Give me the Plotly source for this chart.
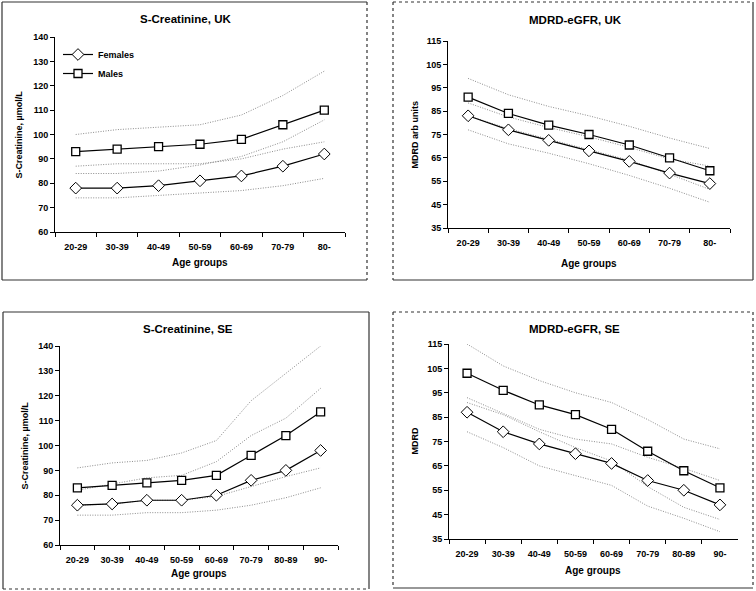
import plotly.graph_objects as go

W, H = 756, 591

# ---------------- data ----------------
age_uk = ["20-29", "30-39", "40-49", "50-59", "60-69", "70-79", "80-"]
age_se = ["20-29", "30-39", "40-49", "50-59", "60-69", "70-79", "80-89", "90-"]

# S-Creatinine, UK
cr_uk_f = [78, 78, 79, 81, 83, 87, 92]
cr_uk_m = [93, 94, 95, 96, 98, 104, 110]
cr_uk_m_hi = [100, 102, 103, 104, 108, 116, 126]
cr_uk_m_lo = [87, 88, 88, 88, 90, 94, 97]
cr_uk_f_hi = [84, 84, 85, 87.5, 91, 97, 106]
cr_uk_f_lo = [74, 74, 75, 76, 77, 79, 82]

# MDRD-eGFR, UK
eg_uk_f = [83, 77, 72.5, 68, 63.5, 58.5, 54]
eg_uk_m = [91, 84, 79, 75, 70.5, 65, 59.5]
eg_uk_m_hi = [99, 92, 87, 83, 78.5, 73.5, 69]
eg_uk_f_hi = [88.5, 82.5, 78, 74, 69.5, 64.5, 61.5]
eg_uk_m_lo = [83, 77.5, 73, 68.5, 64, 58, 51.5]
eg_uk_f_lo = [77, 71, 67, 62.5, 57.5, 52, 46]

# S-Creatinine, SE
cr_se_f = [76, 76.5, 78, 78, 80, 86, 90, 98]
cr_se_m = [83, 84, 85, 86, 88, 96, 104, 113.5]
cr_se_m_hi = [91, 93, 94, 97, 102, 118, 129, 140]
cr_se_f_hi = [82, 84.5, 87, 88, 93.5, 104, 111, 123]
cr_se_m_lo = [76, 76.5, 78, 78, 79.5, 83.5, 87.5, 91]
cr_se_f_lo = [72, 72, 73, 73, 74, 76, 79, 83]

# MDRD-eGFR, SE
eg_se_f = [87, 79, 74, 70, 66, 59, 55, 49]
eg_se_m = [103, 96, 90, 86, 80, 71, 63, 56]
eg_se_m_hi = [115, 106, 100, 95, 91, 84, 76, 72]
eg_se_m_lo = [93, 86.5, 80, 76, 74, 68.5, 64, 59]
eg_se_f_hi = [91, 86, 79, 72.5, 67, 56.5, 48, 43]
eg_se_f_lo = [79, 72.5, 65, 61, 57, 48.5, 43.5, 38]

panels = [
    dict(cats=age_uk, f=cr_uk_f, m=cr_uk_m, bands=[cr_uk_m_hi, cr_uk_m_lo, cr_uk_f_hi, cr_uk_f_lo],
         title="S-Creatinine, UK", ytitle="S-Creatinine, µmol/L", yr=[60, 140], tick0=60,
         px=(55, 345), py=(37, 232), tx=185, ty=19, ytx=18, xtx=200, xty=262),
    dict(cats=age_uk, f=eg_uk_f, m=eg_uk_m, bands=[eg_uk_m_hi, eg_uk_f_hi, eg_uk_m_lo, eg_uk_f_lo],
         title="MDRD-eGFR, UK", ytitle="MDRD arb units", yr=[35, 115], tick0=35,
         px=(448, 730), py=(41, 228), tx=575, ty=20, ytx=414, xtx=589, xty=263),
    dict(cats=age_se, f=cr_se_f, m=cr_se_m, bands=[cr_se_m_hi, cr_se_f_hi, cr_se_m_lo, cr_se_f_lo],
         title="S-Creatinine, SE", ytitle="S-Creatinine, µmol/L", yr=[60, 140], tick0=60,
         px=(60, 338), py=(346, 545), tx=188, ty=329, ytx=24, xtx=199, xty=573),
    dict(cats=age_se, f=eg_se_f, m=eg_se_m, bands=[eg_se_m_hi, eg_se_m_lo, eg_se_f_hi, eg_se_f_lo],
         title="MDRD-eGFR, SE", ytitle="MDRD", yr=[35, 115], tick0=35,
         px=(449, 738), py=(344, 539), tx=574, ty=329, ytx=414, xtx=593, xty=570),
]

FONT = "Liberation Sans, Arial, sans-serif"
fig = go.Figure()
annotations = []
shapes = []

for i, p in enumerate(panels):
    n = i + 1
    xa = "x" if n == 1 else f"x{n}"
    ya = "y" if n == 1 else f"y{n}"
    for b in p["bands"]:
        fig.add_trace(go.Scatter(x=p["cats"], y=b, mode="lines", xaxis=xa, yaxis=ya,
                                 line=dict(color="#8c8c8c", width=1, dash="1px,1.5px"),
                                 showlegend=False, hoverinfo="skip"))
    fig.add_trace(go.Scatter(x=p["cats"], y=p["f"], mode="lines+markers", name="Females",
                             xaxis=xa, yaxis=ya, showlegend=(n == 1),
                             line=dict(color="black", width=1.2),
                             marker=dict(symbol="diamond", size=9, color="white",
                                         line=dict(color="black", width=1))))
    fig.add_trace(go.Scatter(x=p["cats"], y=p["m"], mode="lines+markers", name="Males",
                             xaxis=xa, yaxis=ya, showlegend=(n == 1),
                             line=dict(color="black", width=1.2),
                             marker=dict(symbol="square", size=8, color="white",
                                         line=dict(color="black", width=1.3))))
    xd = [p["px"][0] / W, p["px"][1] / W]
    yd = [1 - p["py"][1] / H, 1 - p["py"][0] / H]
    axkey_x = "xaxis" if n == 1 else f"xaxis{n}"
    axkey_y = "yaxis" if n == 1 else f"yaxis{n}"
    fig.update_layout(**{
        axkey_x: dict(domain=xd, anchor=ya, type="category", range=[-0.5, len(p["cats"]) - 0.5],
                      showline=True, linecolor="black", linewidth=1, ticks="outside",
                      tickson="boundaries", ticklen=4, tickcolor="black", showgrid=False,
                      zeroline=False, ticklabelstandoff=6, automargin=False,
                      tickfont=dict(family=FONT, size=9, color="black", weight="bold")),
        axkey_y: dict(domain=yd, anchor=xa, range=p["yr"], tick0=p["tick0"], dtick=10,
                      showline=True, linecolor="black", linewidth=1, ticks="outside",
                      ticklen=4, tickcolor="black", showgrid=False, zeroline=False,
                      automargin=False,
                      tickfont=dict(family=FONT, size=9, color="black", weight="bold")),
    })
    annotations.append(dict(text=p["title"], x=p["tx"] / W, y=1 - p["ty"] / H, xref="paper",
                            yref="paper", showarrow=False, xanchor="center", yanchor="middle",
                            font=dict(family=FONT, size=11.5, color="black", weight="bold")))
    annotations.append(dict(text=p["ytitle"], x=p["ytx"] / W, y=1 - (p["py"][0] + p["py"][1]) / 2 / H,
                            xref="paper", yref="paper", showarrow=False, textangle=-90,
                            xanchor="center", yanchor="middle",
                            font=dict(family=FONT, size=9, color="black", weight="bold")))
    annotations.append(dict(text="Age groups", x=p["xtx"] / W, y=1 - p["xty"] / H, xref="paper",
                            yref="paper", showarrow=False, xanchor="center", yanchor="middle",
                            font=dict(family=FONT, size=10, color="black", weight="bold")))

# panel frames (left, top, right, bottom) and edge styles
frames = [
    ((2, 2, 367, 280), ("solid", "solid", "dot", "solid")),
    ((393, 2, 753, 280), ("dot", "dot", "solid", "solid")),
    ((3, 312, 369, 589), ("solid", "solid", "solid", "dot")),
    ((393, 312, 753, 588), ("dot", "dot", "dot", "solid")),
]
for (l, t, r, b), (sl, st, sr, sb) in frames:
    edges = [((l, t), (l, b), sl), ((l, t), (r, t), st), ((r, t), (r, b), sr), ((l, b), (r, b), sb)]
    for (x0, y0), (x1, y1), d in edges:
        shapes.append(dict(type="line", xref="paper", yref="paper",
                           x0=x0 / W, x1=x1 / W, y0=1 - y0 / H, y1=1 - y1 / H,
                           line=dict(color="#333333", width=1.2, dash=d)))

fig.update_layout(
    width=W, height=H, margin=dict(l=0, r=0, t=0, b=0, autoexpand=False),
    paper_bgcolor="white", plot_bgcolor="white",
    annotations=annotations, shapes=shapes,
    legend=dict(x=58 / W, y=1 - 40 / H, xanchor="left", yanchor="top",
                bgcolor="rgba(0,0,0,0)", borderwidth=0, itemwidth=30, tracegroupgap=0,
                font=dict(family=FONT, size=9, color="black", weight="bold")),
    showlegend=True,
)

fig.write_html(
    "out.html",
    config={"displayModeBar": False},
    post_script=("document.documentElement.style.margin='0';"
                 "document.documentElement.style.overflow='hidden';"
                 "document.body.style.margin='0';document.body.style.padding='0';"
                 "document.body.style.overflow='hidden';"),
)
